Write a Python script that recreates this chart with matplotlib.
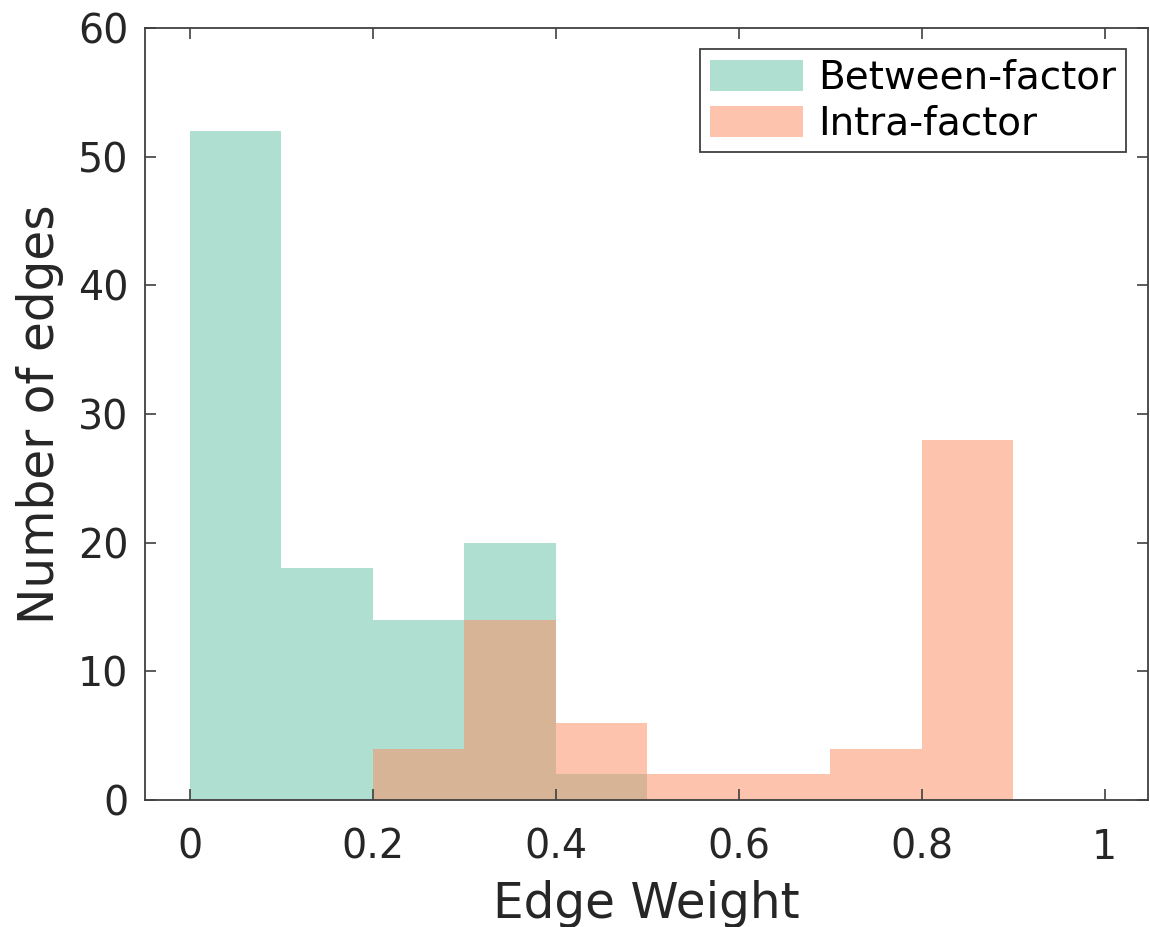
import numpy as np
import matplotlib
matplotlib.use("Agg")
import matplotlib.pyplot as plt

# histogram counts per bin (bin width 0.1)
bin_edges = [0.0, 0.1, 0.2, 0.3, 0.4, 0.5, 0.6, 0.7, 0.8, 0.9, 1.0]
between_counts = [52, 18, 14, 20, 2, 0, 0, 0, 0, 0]
intra_counts = [0, 0, 4, 14, 6, 2, 2, 4, 28, 0]
labels = ["Between-factor", "Intra-factor"]

teal = "#66C2A5"
salmon = "#FC8D62"
axis_col = "#404040"
text_col = "#262626"

plt.rcParams['font.family'] = ['DejaVu Sans']

fig = plt.figure(figsize=(11.5, 9.27), dpi=100)
ax = fig.add_axes([0.126, 0.137, 0.872, 0.833])

left = np.array(bin_edges[:-1])
width = np.diff(bin_edges)

ax.bar(left, between_counts, width=width, align='edge',
       color=teal, alpha=0.52, linewidth=0, label=labels[0])
ax.bar(left, intra_counts, width=width, align='edge',
       color=salmon, alpha=0.52, linewidth=0, label=labels[1])

ax.set_xlim(-0.049, 1.047)
ax.set_ylim(0, 60)
ax.set_xticks([0, 0.2, 0.4, 0.6, 0.8, 1])
ax.set_xticklabels(['0', '0.2', '0.4', '0.6', '0.8', '1'])
ax.set_yticks([0, 10, 20, 30, 40, 50, 60])

ax.tick_params(direction='in', length=8, width=1.2, colors=axis_col,
               labelcolor=text_col, labelsize=28.5, top=True, right=True)
ax.tick_params(axis='x', pad=20)
ax.tick_params(axis='y', pad=12)
for s in ax.spines.values():
    s.set_color(axis_col)
    s.set_linewidth(1.3)

ax.set_xlabel('Edge Weight', fontsize=35, color=text_col, labelpad=9)
ax.set_ylabel('Number of edges', fontsize=35, color=text_col, labelpad=10)

leg = ax.legend(loc='upper right', fontsize=28, frameon=True, fancybox=False,
                handlelength=2.4, handleheight=0.85, handletextpad=0.4,
                borderaxespad=0.55, borderpad=0.25, labelspacing=0.2)
leg.get_frame().set_edgecolor(axis_col)
leg.get_frame().set_linewidth(1.3)
leg.get_frame().set_alpha(1)

fig.savefig("out.png", dpi=100)
